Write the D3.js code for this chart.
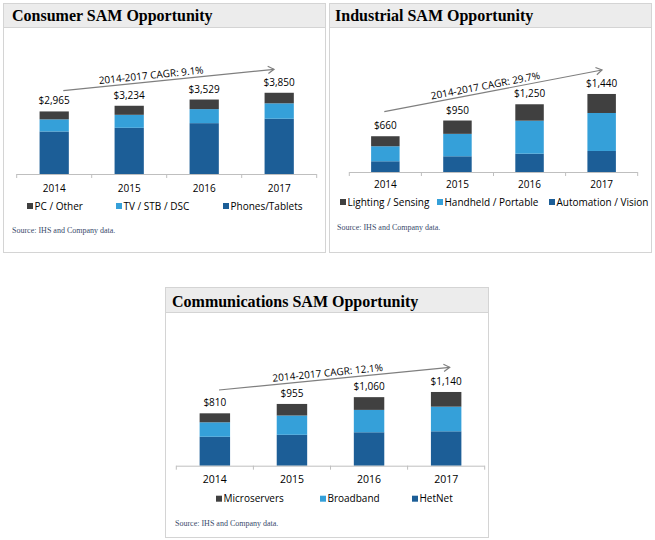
<!DOCTYPE html>
<html>
<head>
<meta charset="utf-8">
<script src="https://cdn.jsdelivr.net/npm/d3@7"></script>
<style>
  html, body { margin: 0; padding: 0; background: #ffffff; }
  svg { display: block; }
</style>
</head>
<body>
<svg id="chart" width="655" height="540"></svg>
<script>
// ---------------- DATA ----------------
const years = ["2014", "2015", "2016", "2017"];

// Consumer SAM ($M)
const consumerSeries = ["Phones/Tablets", "TV / STB / DSC", "PC / Other"];
const consumerPhones = [2015, 2190, 2410, 2620];
const consumerTV     = [575, 615, 665, 730];
const consumerPC     = [375, 429, 454, 500];
const consumerLabels = ["$2,965", "$3,234", "$3,529", "$3,850"];
const consumerCagr   = "2014-2017 CAGR: 9.1%";

// Industrial SAM ($M)
const industrialSeries   = ["Automation / Vision", "Handheld / Portable", "Lighting / Sensing"];
const industrialAuto     = [198, 290, 338, 388];
const industrialHandheld = [277, 414, 609, 701];
const industrialLighting = [185, 246, 303, 351];
const industrialLabels   = ["$660", "$950", "$1,250", "$1,440"];
const industrialCagr     = "2014-2017 CAGR: 29.7%";

// Communications SAM ($M)
const commsSeries    = ["HetNet", "Broadband", "Microservers"];
const commsHetNet    = [448, 478, 517, 532];
const commsBroadband = [223, 298, 346, 381];
const commsMicro     = [139, 179, 197, 227];
const commsLabels    = ["$810", "$955", "$1,060", "$1,140"];
const commsCagr      = "2014-2017 CAGR: 12.1%";

const sourceText = "Source: IHS and Company data.";

// ---------------- STYLE ----------------
const colors = ["#1c5e97", "#35a0d9", "#404040"]; // bottom, middle, top
const sansFont = "'Open Sans', 'Noto Sans', sans-serif";
const serifFont = "'Liberation Serif', 'DejaVu Serif', serif";

const svg = d3.select("#chart");

function drawPanel(cfg) {
  const g = svg.append("g");
  // panel frame
  g.append("rect")
    .attr("x", cfg.box[0] + 0.5).attr("y", cfg.box[1] + 0.5)
    .attr("width", cfg.box[2] - cfg.box[0]).attr("height", cfg.box[3] - cfg.box[1])
    .attr("fill", "#ffffff").attr("stroke", "#d4d4d4").attr("stroke-width", 1);
  g.append("rect")
    .attr("x", cfg.box[0] + 0.5).attr("y", cfg.box[1] + 0.5)
    .attr("width", cfg.box[2] - cfg.box[0]).attr("height", cfg.headerH)
    .attr("fill", "#ececec").attr("stroke", "#d4d4d4").attr("stroke-width", 1);
  g.append("text")
    .attr("x", cfg.titleX).attr("y", cfg.box[1] + cfg.titleDy)
    .attr("font-family", serifFont).attr("font-weight", "bold")
    .attr("font-size", cfg.titleSize).attr("fill", "#000")
    .text(cfg.title);

  // scales
  const x = d3.scaleBand().domain(years).range(cfg.xRange).padding(0);
  const y = d3.scaleLinear().domain([0, cfg.yMax]).range([cfg.base, cfg.base - cfg.yPix]);
  const bw = x.bandwidth() * cfg.barFrac;

  // stack
  const rows = years.map((yr, i) => {
    const o = { year: yr };
    cfg.seriesNames.forEach((s, k) => { o[s] = cfg.values[k][i]; });
    return o;
  });
  const stack = d3.stack().keys(cfg.seriesNames)(rows);

  g.selectAll("g.layer").data(stack).join("g")
    .attr("fill", (d, k) => colors[k])
    .selectAll("rect").data(d => d).join("rect")
    .attr("x", d => x(d.data.year) + (x.bandwidth() - bw) / 2)
    .attr("width", bw)
    .attr("y", d => y(d[1]))
    .attr("height", d => y(d[0]) - y(d[1]));

  // axis
  const axis = g.append("g").attr("transform", `translate(0,${cfg.base})`)
    .call(d3.axisBottom(x).tickSize(0).tickPadding(cfg.yearDy));
  axis.select(".domain").attr("stroke", "#bfbfbf").attr("d", `M${cfg.xRange[0]},0.5H${cfg.xRange[1]}`);
  axis.selectAll("text").attr("font-family", sansFont).attr("font-size", cfg.yearSize).attr("fill", "#000");
  const bounds = years.map(yr => x(yr)).concat([cfg.xRange[1]]);
  axis.selectAll("line.bound").data(bounds).join("line").attr("class", "bound")
    .attr("x1", d => d).attr("x2", d => d).attr("y1", 0).attr("y2", 4)
    .attr("stroke", "#bfbfbf");

  // value labels
  const tops = stack[stack.length - 1];
  g.selectAll("text.val").data(tops).join("text").attr("class", "val")
    .attr("x", d => x(d.data.year) + x.bandwidth() / 2)
    .attr("y", d => y(d[1]) - 7)
    .attr("text-anchor", "middle")
    .attr("font-family", sansFont).attr("font-size", 10).attr("fill", "#000")
    .text((d, i) => cfg.labels[i]);

  // CAGR arrow
  const [x1, y1, x2, y2] = cfg.arrow;
  const ang = Math.atan2(y2 - y1, x2 - x1);
  g.append("line").attr("x1", x1).attr("y1", y1).attr("x2", x2).attr("y2", y2)
    .attr("stroke", "#7f7f7f").attr("stroke-width", 1.2);
  const ah = 7, aw = 0.55;
  g.append("path")
    .attr("d", `M${x2 - ah * Math.cos(ang - aw)},${y2 - ah * Math.sin(ang - aw)}L${x2},${y2}L${x2 - ah * Math.cos(ang + aw)},${y2 - ah * Math.sin(ang + aw)}`)
    .attr("fill", "none").attr("stroke", "#7f7f7f").attr("stroke-width", 1.2);
  const tx = x1 + (x2 - x1) * cfg.cagrT, ty = y1 + (y2 - y1) * cfg.cagrT;
  g.append("text")
    .attr("transform", `translate(${tx},${ty}) rotate(${ang * 180 / Math.PI})`)
    .attr("y", -3).attr("text-anchor", "middle")
    .attr("font-family", sansFont).attr("font-size", 10).attr("fill", "#000")
    .text(cfg.cagr);

  // legend (top series first)
  const legendOrder = [2, 1, 0];
  legendOrder.forEach((k, j) => {
    const lx = cfg.legendX[j];
    g.append("rect").attr("x", lx).attr("y", cfg.base + cfg.legendDy - 3)
      .attr("width", 6).attr("height", 6).attr("fill", colors[k]);
    g.append("text").attr("x", lx + 7.5).attr("y", cfg.base + cfg.legendDy)
      .attr("dy", "0.35em")
      .attr("font-family", sansFont).attr("font-size", 10).attr("fill", "#000")
      .text(cfg.seriesNames[k]);
  });

  // source
  g.append("text").attr("x", cfg.sourceX).attr("y", cfg.base + cfg.sourceDy)
    .attr("dy", "0.35em")
    .attr("font-family", serifFont).attr("font-size", 8).attr("fill", "#3a4a6b")
    .text(sourceText);
}

drawPanel({
  title: "Consumer SAM Opportunity", titleX: 12, titleDy: 18, titleSize: 16,
  box: [3, 3, 325, 252], headerH: 24,
  xRange: [16.7, 316.7], base: 174, yMax: 4000, yPix: 84.4, barFrac: 0.39,
  seriesNames: consumerSeries, values: [consumerPhones, consumerTV, consumerPC],
  labels: consumerLabels, cagr: consumerCagr, arrow: [63.3, 90.7, 274, 69.3], cagrT: 0.42,
  yearDy: 11, yearSize: 10, legendX: [27, 116, 223], legendDy: 32, sourceX: 12, sourceDy: 56
});

drawPanel({
  title: "Industrial SAM Opportunity", titleX: 335, titleDy: 18, titleSize: 16,
  box: [329, 3, 651, 252], headerH: 24,
  xRange: [349.3, 637.7], base: 172, yMax: 1600, yPix: 86.7, barFrac: 0.395,
  seriesNames: industrialSeries, values: [industrialAuto, industrialHandheld, industrialLighting],
  labels: industrialLabels, cagr: industrialCagr, arrow: [384.3, 111.7, 602, 70], cagrT: 0.47,
  yearDy: 9, yearSize: 10, legendX: [340, 437, 549], legendDy: 30, sourceX: 337, sourceDy: 55
});

drawPanel({
  title: "Communications SAM Opportunity", titleX: 172, titleDy: 19.5, titleSize: 16,
  box: [165, 287, 488, 537], headerH: 25,
  xRange: [176.3, 484.7], base: 465.7, yMax: 1200, yPix: 77.6, barFrac: 0.395,
  seriesNames: commsSeries, values: [commsHetNet, commsBroadband, commsMicro],
  labels: commsLabels, cagr: commsCagr, arrow: [219, 390, 449.7, 367.3], cagrT: 0.474,
  yearDy: 10, yearSize: 10.5, legendX: [216, 320, 412], legendDy: 33, sourceX: 175, sourceDy: 57
});
</script>
</body>
</html>
